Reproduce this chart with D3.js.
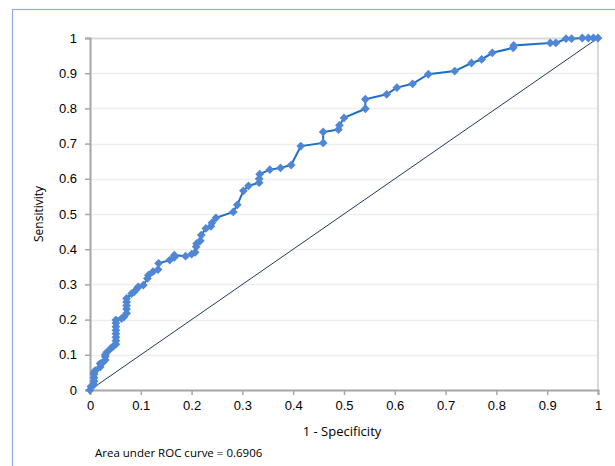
<!DOCTYPE html>
<html>
<head>
<meta charset="utf-8">
<script src="https://cdn.jsdelivr.net/npm/d3@7/dist/d3.min.js"></script>
<style>
  body { margin: 0; background: #fff; }
  svg { display: block; font-family: "Open Sans", "Liberation Sans", sans-serif; }
  .tick text { fill: #000; font-size: 13px; }
</style>
</head>
<body>
<svg id="chart" width="615" height="466"></svg>
<script>
// ROC curve points: 1 - specificity (fpr) and sensitivity (tpr)
const fpr = [0, 0.002, 0.008, 0.008, 0.008, 0.008, 0.008, 0.01,
  0.02, 0.02, 0.025, 0.03, 0.03, 0.03, 0.033, 0.041, 0.045,
  0.051, 0.051, 0.051, 0.051, 0.051, 0.051, 0.051, 0.051,
  0.062, 0.067, 0.072, 0.072, 0.072, 0.072, 0.072,
  0.082, 0.087, 0.093, 0.095, 0.105, 0.113, 0.115, 0.124, 0.134, 0.135,
  0.157, 0.166, 0.166, 0.188, 0.2, 0.207, 0.209, 0.21, 0.217, 0.219,
  0.228, 0.238, 0.24, 0.248, 0.282, 0.29, 0.302, 0.312,
  0.333, 0.333, 0.334, 0.354, 0.375, 0.396, 0.415, 0.459, 0.459,
  0.489, 0.491, 0.5, 0.542, 0.542, 0.584, 0.604, 0.635, 0.666, 0.718,
  0.751, 0.771, 0.792, 0.833, 0.834, 0.906, 0.917, 0.937, 0.948,
  0.969, 0.981, 0.991, 1];
const tpr = [0, 0.01, 0.015, 0.025, 0.035, 0.045, 0.05, 0.055,
  0.065, 0.075, 0.078, 0.085, 0.095, 0.1, 0.107, 0.118, 0.123,
  0.13, 0.14, 0.15, 0.16, 0.17, 0.18, 0.19, 0.199,
  0.203, 0.208, 0.218, 0.23, 0.24, 0.25, 0.26,
  0.274, 0.279, 0.289, 0.293, 0.298, 0.317, 0.326, 0.336, 0.342, 0.36,
  0.369, 0.377, 0.383, 0.38, 0.386, 0.391, 0.407, 0.416, 0.424, 0.44,
  0.459, 0.465, 0.475, 0.489, 0.506, 0.526, 0.566, 0.58,
  0.589, 0.6, 0.613, 0.626, 0.631, 0.639, 0.693, 0.702, 0.733,
  0.74, 0.752, 0.773, 0.799, 0.826, 0.84, 0.859, 0.87, 0.897, 0.906,
  0.929, 0.939, 0.958, 0.972, 0.979, 0.986, 0.986, 0.998, 0.998,
  1, 1, 1, 1];
const tickValues = d3.range(0, 11).map(i => i / 10);
const aucText = 'Area under ROC curve = 0.6906';

const svg = d3.select('#chart');
const plotL = 90, plotR = 598, plotT = 38, plotB = 390;

const x = d3.scaleLinear().domain([0, 1]).range([plotL, plotR]);
const y = d3.scaleLinear().domain([0, 1]).range([plotB, plotT]);
const fmt = d => d === 0 || d === 1 ? String(d) : d3.format('.1f')(d);

// chart border
svg.append('rect')
  .attr('x', 12.5).attr('y', 9.5)
  .attr('width', 700).attr('height', 600)
  .attr('fill', 'none').attr('stroke', '#94add6').attr('stroke-width', 1.2);

// horizontal gridlines
svg.append('g')
  .selectAll('line')
  .data(tickValues.slice(1))
  .join('line')
  .attr('x1', plotL).attr('x2', plotR)
  .attr('y1', d => Math.round(y(d)) + 0.5).attr('y2', d => Math.round(y(d)) + 0.5)
  .attr('stroke', d => d === 1 ? '#d9d9d9' : '#eeeeee').attr('stroke-width', d => d === 1 ? 2 : 1.5);

// right edge line
svg.append('line')
  .attr('x1', plotR).attr('x2', plotR)
  .attr('y1', plotT).attr('y2', plotB)
  .attr('stroke', '#d9d9d9').attr('stroke-width', 2);

// axes
const xAxis = svg.append('g')
  .attr('transform', `translate(0,${plotB})`)
  .call(d3.axisBottom(x).tickValues(tickValues).tickFormat(fmt).tickSize(5).tickPadding(6));
const yAxis = svg.append('g')
  .attr('transform', `translate(${plotL},0)`)
  .call(d3.axisLeft(y).tickValues(tickValues).tickFormat(fmt).tickSize(5).tickPadding(8));
[xAxis, yAxis].forEach(a => {
  a.select('.domain').attr('stroke', '#a6a6a6').attr('stroke-width', 2);
  a.selectAll('.tick line').attr('stroke', '#a6a6a6').attr('stroke-width', 1.5);
});

// reference diagonal
svg.append('line')
  .attr('x1', x(0)).attr('y1', y(0))
  .attr('x2', x(1)).attr('y2', y(1))
  .attr('stroke', '#203864').attr('stroke-width', 1);

// ROC curve
const pts = fpr.map((f, i) => [f, tpr[i]]);
svg.append('path')
  .datum(pts)
  .attr('fill', 'none')
  .attr('stroke', '#1f6fc4')
  .attr('stroke-width', 2)
  .attr('d', d3.line().x(d => x(d[0])).y(d => y(d[1])));

svg.append('g')
  .selectAll('path')
  .data(pts)
  .join('path')
  .attr('transform', d => `translate(${x(d[0])},${y(d[1])}) rotate(45)`)
  .attr('d', 'M-3.1,-3.1H3.1V3.1H-3.1Z')
  .attr('fill', '#4f86d6');

// axis titles
svg.append('text')
  .attr('x', (plotL + plotR) / 2 - 2).attr('y', 436)
  .attr('text-anchor', 'middle')
  .attr('font-size', 13)
  .text('1 - Specificity');

svg.append('text')
  .attr('transform', `translate(43,${(plotT + plotB) / 2}) rotate(-90)`)
  .attr('text-anchor', 'middle')
  .attr('font-size', 12)
  .text('Sensitivity');

svg.append('text')
  .attr('x', 95).attr('y', 457)
  .attr('font-size', 11.5)
  .text(aucText);
</script>
</body>
</html>
